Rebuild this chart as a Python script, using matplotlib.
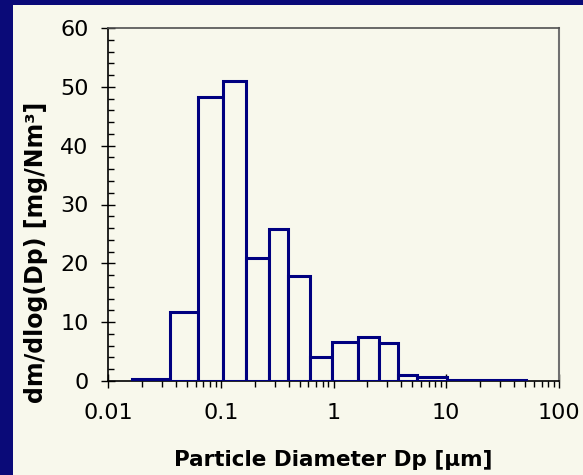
import numpy as np
import matplotlib.pyplot as plt
from matplotlib.patches import Rectangle
from matplotlib.ticker import LogLocator, FixedLocator, MultipleLocator, NullFormatter

# Bin edges (um) and dm/dlog(Dp) values
bin_edges = [0.0164, 0.0355, 0.0633, 0.105, 0.168, 0.27, 0.397, 0.619,
             0.964, 1.64, 2.53, 3.71, 5.47, 10.1, 51.0]
dm_dlogdp = [0.3, 11.8, 48.3, 51.0, 20.9, 25.8, 17.9, 4.0,
             6.6, 7.4, 6.5, 1.1, 0.7, 0.2]
x_ticks = [0.01, 0.1, 1, 10, 100]
x_tick_labels = ['0.01', '0.1', '1', '10', '100']

navy = '#000080'
beige = '#F8F8EC'

plt.rcParams['font.family'] = ['DejaVu Sans']

fig = plt.figure(figsize=(5.83, 4.75), dpi=100)
fig.patch.set_facecolor('#0A0A78')
# beige panel
fig.patches.append(Rectangle((13 / 583, 0), 1 - 13 / 583, 1 - 5 / 475,
                             transform=fig.transFigure, facecolor=beige,
                             edgecolor='none', zorder=-5))

ax = fig.add_axes([108 / 583, 1 - 381 / 475, 451 / 583, 353 / 475])
ax.set_facecolor(beige)

edges = np.array(bin_edges)
ax.bar(edges[:-1], dm_dlogdp, width=np.diff(edges), align='edge',
       color=beige, edgecolor=navy, linewidth=2.2, zorder=3)

ax.set_xscale('log')
ax.set_xlim(0.01, 100)
ax.set_ylim(0, 60)

ax.xaxis.set_major_locator(FixedLocator(x_ticks))
ax.set_xticklabels(x_tick_labels)
ax.xaxis.set_minor_locator(LogLocator(base=10, subs=np.arange(2, 10)))
ax.xaxis.set_minor_formatter(NullFormatter())
ax.yaxis.set_major_locator(MultipleLocator(10))
ax.yaxis.set_minor_locator(MultipleLocator(2))

ax.tick_params(axis='both', which='major', direction='inout', length=10,
               width=1, labelsize=16, colors='black')
ax.tick_params(axis='x', which='major', pad=11)
ax.tick_params(axis='y', which='major', pad=9)
ax.tick_params(axis='x', which='minor', direction='out', length=4, width=1)
ax.tick_params(axis='y', which='minor', direction='in', length=4.5, width=1)

for side in ['left', 'bottom']:
    ax.spines[side].set_color('black')
    ax.spines[side].set_linewidth(1.2)
ax.spines['top'].set_color('#505050')
ax.spines['right'].set_color('#707070')
ax.spines['top'].set_linewidth(1.2)
ax.spines['right'].set_linewidth(1.5)

ax.set_xlabel('Particle Diameter Dp [µm]', fontsize=15.5, fontweight='bold', labelpad=19)
ax.set_ylabel('dm/dlog(Dp) [mg/Nm³]', fontsize=17, fontweight='bold')
ax.yaxis.set_label_coords(-0.133, 0.363)

fig.savefig('out.png', dpi=100, facecolor=fig.get_facecolor())
